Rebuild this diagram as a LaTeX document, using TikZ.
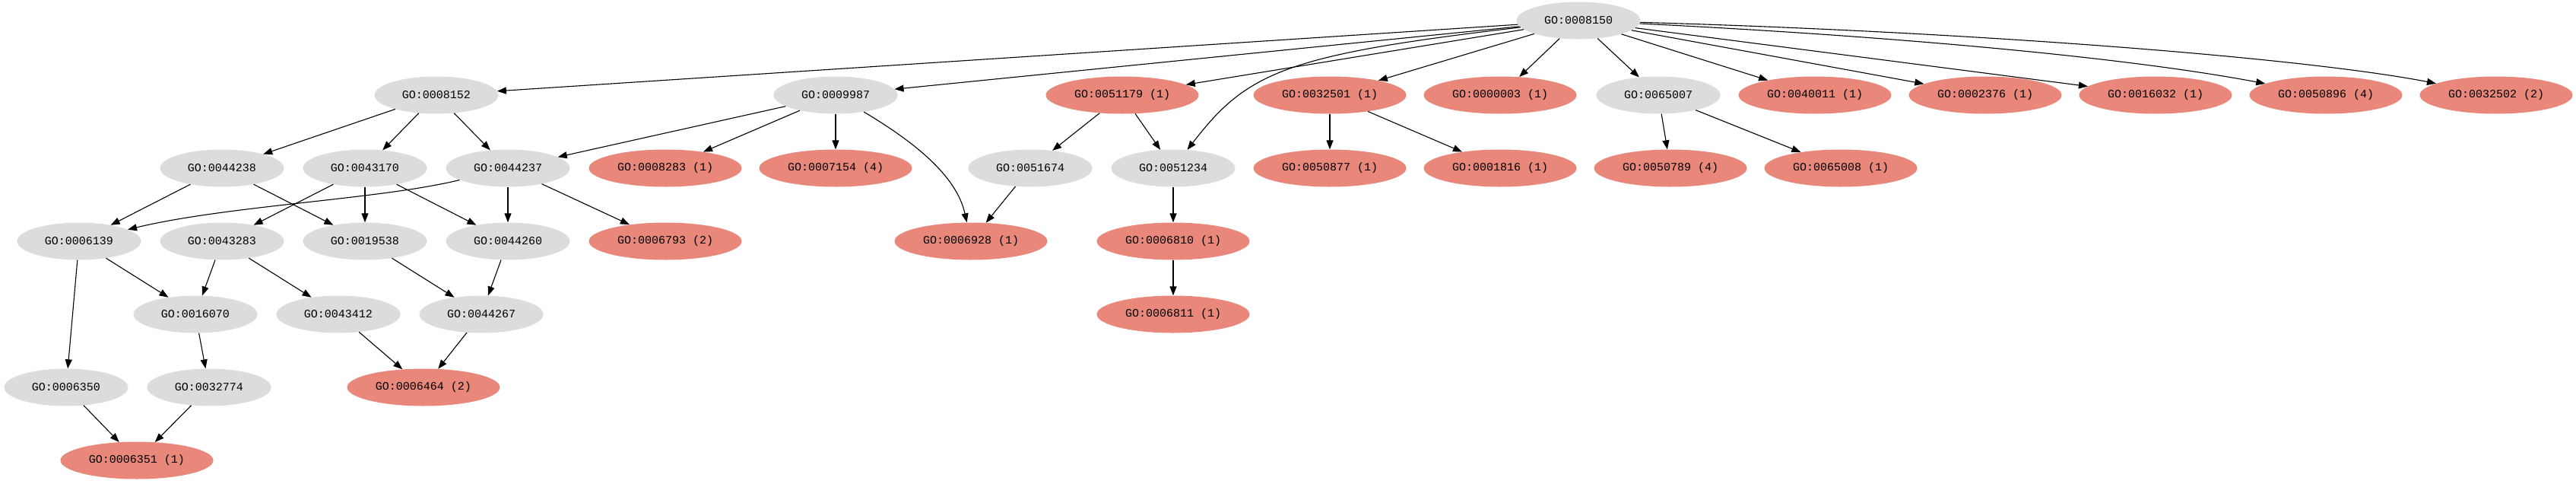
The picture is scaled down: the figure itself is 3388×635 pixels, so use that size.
\documentclass[tikz,border=0pt]{standalone}
\usepackage{fontspec}
\setmonofont{Liberation Mono}
\usetikzlibrary{shapes.geometric,arrows.meta}
\definecolor{greyfill}{HTML}{DCDCDC}
\definecolor{redfill}{HTML}{E8877A}
\tikzset{
  gnode/.style={ellipse,fill=greyfill,draw=none,minimum width=163pt,minimum height=49pt,inner sep=0pt,font=\ttfamily\fontsize{15}{18}\selectfont},
  rnode/.style={gnode,fill=redfill,minimum width=201pt},
  edge/.style={line width=1.1pt,-{Triangle[length=12pt,width=9pt]}}
}
\begin{document}
\begin{tikzpicture}[x=1pt,y=-1pt]
\useasboundingbox (0,0) rectangle (3388,635);
% row 0
\node[gnode] (n8150) at (2076,27) {GO:0008150};
% row 1
\node[gnode] (n8152) at (574,125) {GO:0008152};
\node[gnode] (n9987) at (1099,125) {GO:0009987};
\node[rnode] (n51179) at (1476,125) {GO:0051179 (1)};
\node[rnode] (n32501) at (1749,125) {GO:0032501 (1)};
\node[rnode] (n0003) at (1973,125) {GO:0000003 (1)};
\node[gnode] (n65007) at (2181,125) {GO:0065007};
\node[rnode] (n40011) at (2387,125) {GO:0040011 (1)};
\node[rnode] (n2376) at (2611,125) {GO:0002376 (1)};
\node[rnode] (n16032) at (2835,125) {GO:0016032 (1)};
\node[rnode] (n50896) at (3059,125) {GO:0050896 (4)};
\node[rnode] (n32502) at (3283,125) {GO:0032502 (2)};
% row 2
\node[gnode] (n44238) at (292,221) {GO:0044238};
\node[gnode] (n43170) at (480,221) {GO:0043170};
\node[gnode] (n44237) at (668,221) {GO:0044237};
\node[rnode] (n8283) at (875,221) {GO:0008283 (1)};
\node[rnode] (n7154) at (1099,221) {GO:0007154 (4)};
\node[gnode] (n51674) at (1355,221) {GO:0051674};
\node[gnode] (n51234) at (1543,221) {GO:0051234};
\node[rnode] (n50877) at (1749,221) {GO:0050877 (1)};
\node[rnode] (n1816) at (1973,221) {GO:0001816 (1)};
\node[rnode] (n50789) at (2197,221) {GO:0050789 (4)};
\node[rnode] (n65008) at (2421,221) {GO:0065008 (1)};
% row 3
\node[gnode] (n6139) at (104,317) {GO:0006139};
\node[gnode] (n43283) at (292,317) {GO:0043283};
\node[gnode] (n19538) at (480,317) {GO:0019538};
\node[gnode] (n44260) at (668,317) {GO:0044260};
\node[rnode] (n6793) at (875,317) {GO:0006793 (2)};
\node[rnode] (n6928) at (1277,317) {GO:0006928 (1)};
\node[rnode] (n6810) at (1543,317) {GO:0006810 (1)};
% row 4
\node[gnode] (n16070) at (257,413) {GO:0016070};
\node[gnode] (n43412) at (445,413) {GO:0043412};
\node[gnode] (n44267) at (633,413) {GO:0044267};
\node[rnode] (n6811) at (1543,413) {GO:0006811 (1)};
% row 5
\node[gnode] (n6350) at (87,509) {GO:0006350};
\node[gnode] (n32774) at (275,509) {GO:0032774};
\node[rnode] (n6464) at (557,509) {GO:0006464 (2)};
% row 6
\node[rnode] (n6351) at (180,605) {GO:0006351 (1)};

% edges from root
\draw[edge] (n8150) -- (n8152);
\draw[edge] (n8150) -- (n9987);
\draw[edge] (n8150) -- (n51179);
\draw[edge] (n8150) .. controls (1690,72) and (1640,95) .. (n51234);
\draw[edge] (n8150) -- (n32501);
\draw[edge] (n8150) -- (n0003);
\draw[edge] (n8150) -- (n65007);
\draw[edge] (n8150) -- (n40011);
\draw[edge] (n8150) -- (n2376);
\draw[edge] (n8150) -- (n16032);
\draw[edge] (n8150) .. controls (2500,48) and (2800,76) .. (n50896);
\draw[edge] (n8150) .. controls (2600,42) and (3030,76) .. (n32502);
% row 1 children
\draw[edge] (n8152) -- (n44238);
\draw[edge] (n8152) -- (n43170);
\draw[edge] (n8152) -- (n44237);
\draw[edge] (n9987) -- (n44237);
\draw[edge] (n9987) -- (n8283);
\draw[edge] (n9987) -- (n7154);
\draw[edge] (n9987) .. controls (1200,185) and (1258,230) .. (n6928);
\draw[edge] (n51179) -- (n51674);
\draw[edge] (n51179) -- (n51234);
\draw[edge] (n32501) -- (n50877);
\draw[edge] (n32501) -- (n1816);
\draw[edge] (n65007) -- (n50789);
\draw[edge] (n65007) -- (n65008);
% row 2 children
\draw[edge] (n44238) -- (n6139);
\draw[edge] (n44238) -- (n19538);
\draw[edge] (n43170) -- (n43283);
\draw[edge] (n43170) -- (n19538);
\draw[edge] (n43170) -- (n44260);
\draw[edge] (n44237) .. controls (500,262) and (300,270) .. (n6139);
\draw[edge] (n44237) -- (n44260);
\draw[edge] (n44237) -- (n6793);
\draw[edge] (n51674) -- (n6928);
\draw[edge] (n51234) -- (n6810);
% row 3 children
\draw[edge] (n6139) -- (n6350);
\draw[edge] (n6139) -- (n16070);
\draw[edge] (n43283) -- (n16070);
\draw[edge] (n43283) -- (n43412);
\draw[edge] (n19538) -- (n44267);
\draw[edge] (n44260) -- (n44267);
\draw[edge] (n6810) -- (n6811);
% row 4 children
\draw[edge] (n16070) -- (n32774);
\draw[edge] (n43412) -- (n6464);
\draw[edge] (n44267) -- (n6464);
% row 5 children
\draw[edge] (n6350) -- (n6351);
\draw[edge] (n32774) -- (n6351);
\end{tikzpicture}
\end{document}
